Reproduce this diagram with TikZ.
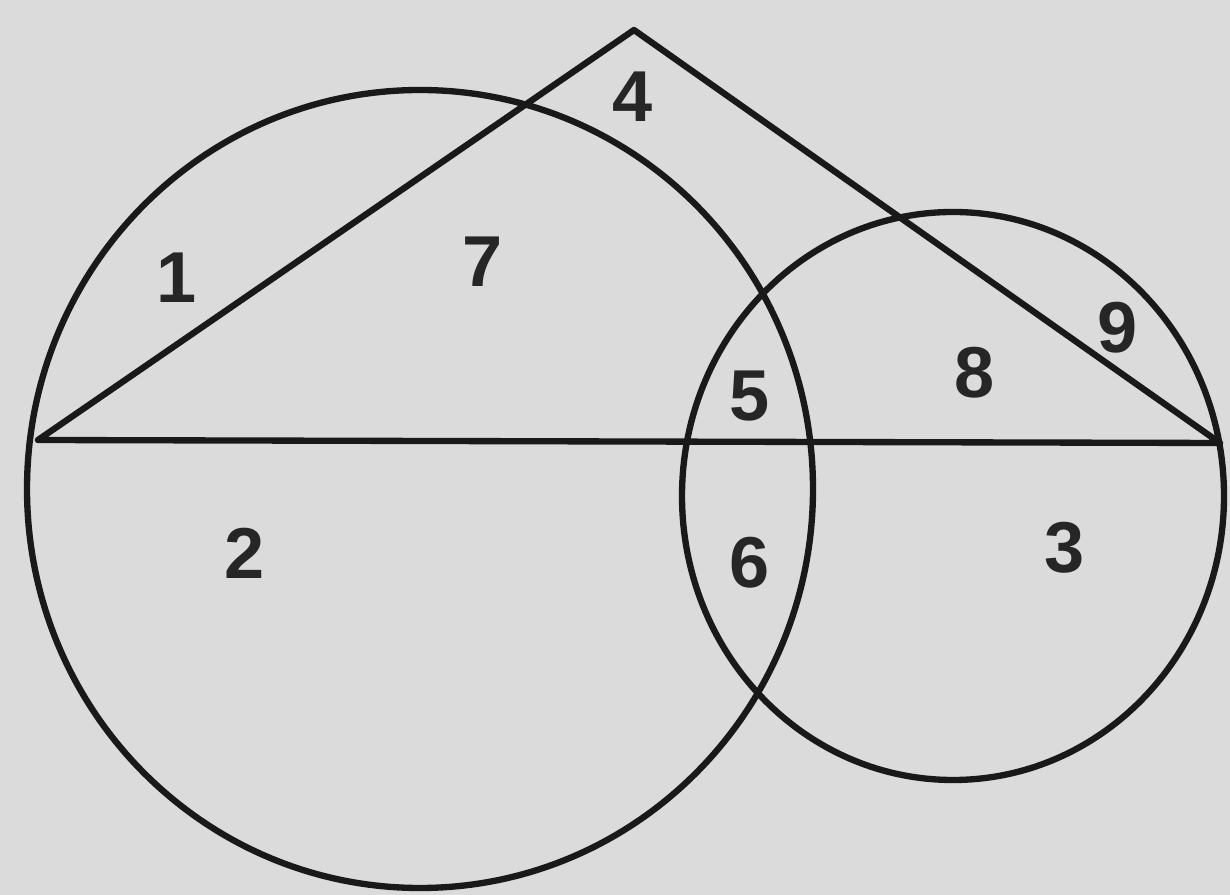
\documentclass[tikz,border=0pt]{standalone}
\usepackage{fontspec}
\setmainfont{Liberation Sans}
\begin{document}
\begin{tikzpicture}[x=0.01cm,y=-0.01cm,
  ln/.style={line width=1.8pt,draw=black!90},
  lbl/.style={font=\fontsize{20.5}{24}\selectfont\bfseries,text=black!85}]
\fill[black!14] (0,0) rectangle (1230,895);
\useasboundingbox (0,0) rectangle (1230,895);
\coordinate (A) at (38,440);
\coordinate (B) at (634,30);
\coordinate (C) at (1220,443);
\coordinate (O1) at (420,489);
\coordinate (O2) at (953,496);
\draw[ln] (O1) ellipse [x radius=393, y radius=399];
\draw[ln] (O2) ellipse [x radius=271, y radius=284];
\draw[ln,line join=round] (A) -- (B) -- (C) -- cycle;
\node[lbl] (n1) at (177,278) {1};
\node[lbl] (n7) at (483,262) {7};
\node[lbl] (n4) at (633,97) {4};
\node[lbl] (n5) at (750,396) {5};
\node[lbl] (n8) at (975,373) {8};
\node[lbl] (n9) at (1118,328) {9};
\node[lbl] (n2) at (245,553) {2};
\node[lbl] (n6) at (750,563) {6};
\node[lbl] (n3) at (1065,548) {3};
\end{tikzpicture}
\end{document}
